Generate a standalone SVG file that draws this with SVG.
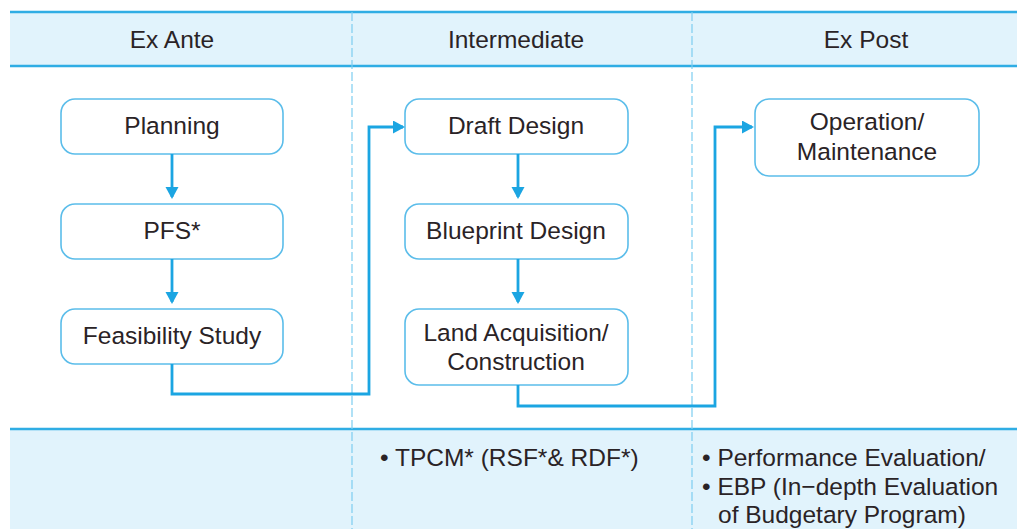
<svg xmlns="http://www.w3.org/2000/svg" width="1017" height="529" viewBox="0 0 1017 529">
<style>
.band{fill:#E1F3FC}
.hl{stroke:#2FADE4;stroke-width:2.5;fill:none}
.div{stroke:#7DCDF0;stroke-width:1.2;stroke-dasharray:9 3;fill:none}
.box{fill:#fff;stroke:#5BBDEA;stroke-width:1.6}
.t{font-family:"Liberation Sans",Arial,sans-serif;font-size:24.5px;fill:#2a2326;text-anchor:middle}
.tl{font-family:"Liberation Sans",Arial,sans-serif;font-size:24.5px;fill:#2a2326}
.c{stroke:#1BA5E2;stroke-width:2.8;fill:none}
</style>
<defs>
<marker id="ah" markerWidth="14" markerHeight="14" refX="10" refY="6.5" orient="auto" markerUnits="userSpaceOnUse">
<path d="M0,0 L12,6.5 L0,13 Z" fill="#1BA5E2"/>
</marker>
</defs>
<rect width="1017" height="529" fill="#fff"/>
<g id="header">
<rect class="band" x="10" y="12" width="1007" height="54"/>
<line class="hl" x1="10" y1="12" x2="1017" y2="12"/>
<line class="hl" x1="10" y1="66" x2="1017" y2="66"/>
<text class="t" x="172" y="48">Ex Ante</text>
<text class="t" x="516" y="48">Intermediate</text>
<text class="t" x="866" y="48">Ex Post</text>
</g>
<g id="footer">
<rect class="band" x="10" y="429" width="1007" height="100"/>
<line class="hl" x1="10" y1="429" x2="1017" y2="429"/>
<text class="tl" x="380" y="466">• TPCM* (RSF*&amp; RDF*)</text>
<text class="tl" x="702" y="466">• Performance Evaluation/</text>
<text class="tl" x="702" y="495">• EBP (In−depth Evaluation</text>
<text class="tl" x="718" y="523">of Budgetary Program)</text>
</g>
<g id="dividers">
<line class="div" x1="352" y1="12" x2="352" y2="529"/>
<line class="div" x1="692" y1="12" x2="692" y2="529"/>
</g>
<g id="n-planning"><rect class="box" x="61" y="99" width="222" height="55" rx="14"/><text class="t" x="172" y="134">Planning</text></g>
<g id="n-pfs"><rect class="box" x="61" y="204" width="222" height="55" rx="14"/><text class="t" x="172" y="239">PFS*</text></g>
<g id="n-feasibility"><rect class="box" x="61" y="309" width="222" height="55" rx="14"/><text class="t" x="172" y="344">Feasibility Study</text></g>
<g id="n-draft"><rect class="box" x="405" y="99" width="223" height="55" rx="14"/><text class="t" x="516" y="134">Draft Design</text></g>
<g id="n-blueprint"><rect class="box" x="405" y="204" width="223" height="55" rx="14"/><text class="t" x="516" y="239">Blueprint Design</text></g>
<g id="n-land"><rect class="box" x="405" y="309" width="223" height="76" rx="14"/><text class="t" x="516" y="341">Land Acquisition/</text><text class="t" x="516" y="370">Construction</text></g>
<g id="n-operation"><rect class="box" x="755" y="99" width="224" height="77" rx="14"/><text class="t" x="867" y="130">Operation/</text><text class="t" x="867" y="160">Maintenance</text></g>
<g id="connectors">
<path class="c" d="M172,154 V197" marker-end="url(#ah)"/>
<path class="c" d="M172,259 V302" marker-end="url(#ah)"/>
<path class="c" d="M172,364 V394 H369 V127 H403" marker-end="url(#ah)"/>
<path class="c" d="M518,154 V197" marker-end="url(#ah)"/>
<path class="c" d="M518,259 V302" marker-end="url(#ah)"/>
<path class="c" d="M518,385 V406 H715 V127 H752" marker-end="url(#ah)"/>
</g>
</svg>
